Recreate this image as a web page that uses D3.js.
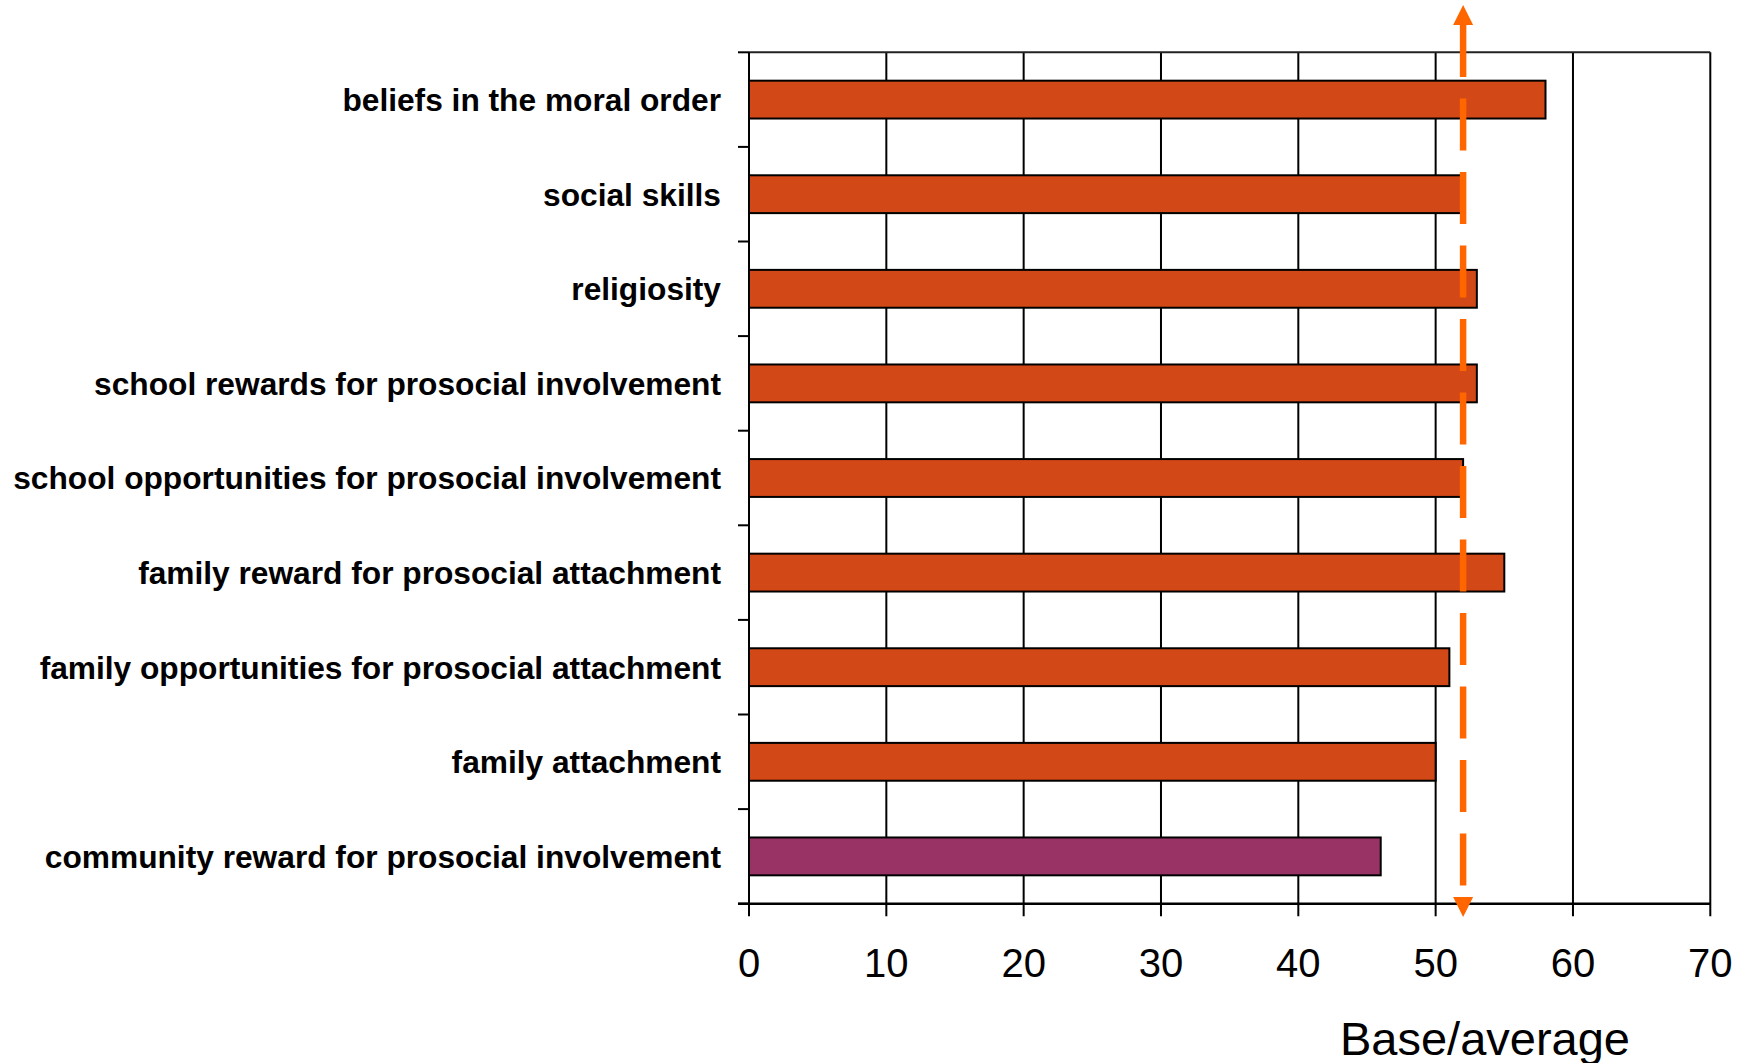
<!DOCTYPE html>
<html>

<head>
    <script type="text/javascript" src="https://d3js.org/d3.v7.min.js"></script>
    <style>
        body { margin: 0; background: #fff; }
    </style>
</head>

<body>
    <script>
        // categories from top to bottom and their scores
        var categories = [
            "beliefs in the moral order",
            "social skills",
            "religiosity",
            "school rewards for prosocial involvement",
            "school opportunities for prosocial involvement",
            "family reward for prosocial attachment",
            "family opportunities for prosocial attachment",
            "family attachment",
            "community reward for prosocial involvement"
        ];
        var values = [58, 52, 53, 53, 52, 55, 51, 50, 46];
        // the one bar drawn in the second colour
        var highlighted = ["community reward for prosocial involvement"];
        var xTicks = [0, 10, 20, 30, 40, 50, 60, 70];
        var average = 52;
        var axisTitle = "Base/average";

        var width = 1750;
        var height = 1063;
        // note: "top" is reserved by the window object, so use other names
        var plotLeft = 749, plotRight = 1710.3, plotTop = 52.3, plotBottom = 903.7;
        var font = '"Liberation Sans", Arial, sans-serif';

        var svg = d3.select('body').append('svg').attr('width', width).attr('height', height);

        var x = d3.scaleLinear().domain([0, 70]).range([plotLeft, plotRight]);
        var y = d3.scaleBand().domain(categories).range([plotTop, plotBottom])
            .paddingInner(0.6).paddingOuter(0.3);

        // vertical grid lines, they also work as the x ticks below the axis
        svg.selectAll('.grid')
            .data(xTicks)
            .enter()
            .append('line')
            .attr('x1', d => x(d)).attr('x2', d => x(d))
            .attr('y1', plotTop).attr('y2', plotBottom + 12.5)
            .attr('stroke', '#000').attr('stroke-width', 2);

        // top border
        svg.append('line')
            .attr('x1', plotLeft).attr('x2', plotRight)
            .attr('y1', plotTop).attr('y2', plotTop)
            .attr('stroke', '#222').attr('stroke-width', 2);

        // bars
        svg.selectAll('.bar')
            .data(categories)
            .enter()
            .append('rect')
            .attr('x', x(0))
            .attr('y', d => y(d))
            .attr('width', (d, i) => x(values[i]) - x(0))
            .attr('height', y.bandwidth())
            .attr('fill', d => highlighted.indexOf(d) >= 0 ? '#993366' : '#D34817')
            .attr('stroke', '#000').attr('stroke-width', 2);

        // left axis with ticks at band edges
        var step = y.step();
        var edges = d3.range(categories.length + 1).map(i => plotTop + i * step);
        svg.append('line')
            .attr('x1', plotLeft).attr('x2', plotLeft)
            .attr('y1', plotTop).attr('y2', plotBottom)
            .attr('stroke', '#000').attr('stroke-width', 2);
        svg.selectAll('.ytick')
            .data(edges)
            .enter()
            .append('line')
            .attr('x1', plotLeft - 11).attr('x2', plotLeft)
            .attr('y1', d => d).attr('y2', d => d)
            .attr('stroke', '#000').attr('stroke-width', 2);

        // bottom axis line
        svg.append('line')
            .attr('x1', plotLeft - 11).attr('x2', plotRight)
            .attr('y1', plotBottom).attr('y2', plotBottom)
            .attr('stroke', '#000').attr('stroke-width', 2.5);

        // category labels
        svg.selectAll('.label')
            .data(categories)
            .enter()
            .append('text')
            .attr('x', 721)
            .attr('y', d => y(d) + y.bandwidth() / 2 + 11.3)
            .attr('text-anchor', 'end')
            .style('font-family', font)
            .style('font-weight', 'bold')
            .style('font-size', '31.7px')
            .text(d => d);

        // x tick labels
        svg.selectAll('.xlabel')
            .data(xTicks)
            .enter()
            .append('text')
            .attr('x', d => x(d))
            .attr('y', 976.7)
            .attr('text-anchor', 'middle')
            .style('font-family', font)
            .style('font-size', '40px')
            .text(d => d);

        svg.append('text')
            .attr('x', 1485).attr('y', 1055)
            .attr('text-anchor', 'middle')
            .style('font-family', font)
            .style('font-size', '47px')
            .text(axisTitle);

        // average line: dashed with arrow heads at both ends
        var ax = x(average);
        var orange = '#FF6600';
        svg.append('line')
            .attr('x1', ax).attr('x2', ax)
            .attr('y1', 25).attr('y2', 897)
            .attr('stroke', orange).attr('stroke-width', 6.5)
            .attr('stroke-dasharray', '52,21.5');
        svg.append('path')
            .attr('d', 'M' + (ax - 10) + ',25L' + (ax + 10) + ',25L' + ax + ',5Z')
            .attr('fill', orange);
        svg.append('path')
            .attr('d', 'M' + (ax - 10) + ',897L' + (ax + 10) + ',897L' + ax + ',917Z')
            .attr('fill', orange);
    </script>
</body>

</html>
